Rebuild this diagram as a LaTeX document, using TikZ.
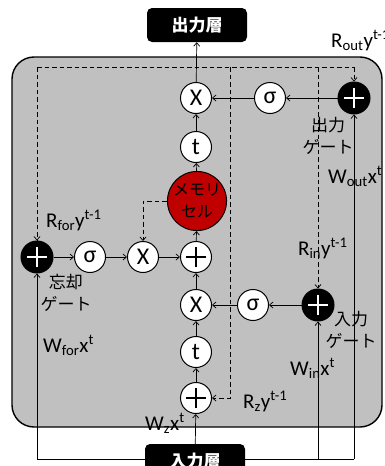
\documentclass[tikz,border=0pt]{standalone}
\usepackage{fontspec}
\setmainfont{Carlito}
\newfontfamily\jp{Noto Sans CJK JP}
\usetikzlibrary{arrows.meta}
\definecolor{cellgray}{HTML}{C0C0C0}
\definecolor{cellred}{HTML}{C00000}
\begin{document}
\begin{tikzpicture}[x=1pt,y=-1pt,
  op/.style={circle,draw,fill=white,minimum size=31pt,inner sep=0pt,line width=1pt,font=\fontsize{24}{24}\selectfont},
  bop/.style={circle,draw,fill=black,minimum size=32pt,inner sep=0pt,line width=1pt},
  layer/.style={rounded corners=5pt,fill=black,text=white,minimum width=100pt,minimum height=34pt,inner sep=0pt,font=\jp\bfseries\fontsize{17}{18}\selectfont},
  arr/.style={-{Straight Barb[length=3.5pt,width=6pt]},line width=0.7pt},
  darr/.style={arr,dashed,dash pattern=on 4.5pt off 3pt},
  dline/.style={line width=0.7pt,dashed,dash pattern=on 4.5pt off 3pt},
  sline/.style={line width=0.7pt},
  lbl/.style={font=\fontsize{21}{21}\selectfont,inner sep=0pt},
  jlbl/.style={font=\jp\fontsize{17}{22}\selectfont,align=center,inner sep=0pt},
  pl/.style={line width=1.8pt}
]
\useasboundingbox (0,0) rectangle (385,466);
% cell background
\draw[fill=cellgray,line width=1.4pt,rounded corners=22pt] (12,57) rectangle (382,427);

% nodes
\node[op] (xTop) at (196,98) {X};
\node[op] (tTop) at (196,147) {t};
\node[circle,draw,fill=cellred,minimum size=49pt,inner sep=0pt,line width=1pt,align=center,font=\jp\fontsize{16}{22}\selectfont] (mem) at (197,201) {メモリ\\セル};
\node[op] (pMid) at (196,257) {};
\node[op] (xMid) at (196,305) {X};
\node[op] (tBot) at (196,352) {t};
\node[op] (pBot) at (196,398) {};
\node[op] (sOut) at (270,98) {σ};
\node[bop] (bOut) at (354,98) {};
\node[bop] (bFor) at (37,257) {};
\node[op] (sFor) at (90,257) {σ};
\node[op] (xFor) at (143,257) {X};
\node[op] (sIn) at (253,305) {σ};
\node[bop] (bIn) at (318,305) {};
\node[layer] (outL) at (197,25) {出力層};

% plus signs
\foreach \n in {pMid,pBot}{
  \draw[pl] (\n.center) +(-10,0) -- +(10,0);
  \draw[pl] (\n.center) +(0,-10) -- +(0,10);
}
\foreach \n in {bOut,bFor,bIn}{
  \draw[pl,white] (\n.center) +(-10,0) -- +(10,0);
  \draw[pl,white] (\n.center) +(0,-10) -- +(0,10);
}

% coordinates for dashed bus
\coordinate (dL) at (37,67);
\coordinate (dR) at (354,67);
\coordinate (dZ) at (230,67);
\coordinate (dZb) at (230,398);
\coordinate (dI) at (318,67);
\coordinate (pk) at (143,201);

% solid input lines
\coordinate (iL) at (37,459);
\coordinate (iR) at (354,459);
\coordinate (iI) at (318,459);
\draw[sline] (iL) -- (147,459);
\draw[sline] (245,459) -- (iR);

% dashed connectors
\draw[dline] (dL) -- (dR);
\draw[darr] (dR) -- (bOut);
\draw[darr] (dL) -- (bFor);
\draw[darr] (dI) -- (bIn);
\draw[darr] (dZ) -- (dZb) -- (pBot);
\draw[darr] (mem) -- (pk) -- (xFor);

% input layer (drawn over lines)
\node[layer] (inL) at (195,461) {入力層};

% solid connectors
\draw[arr] (xTop) -- (outL);
\draw[arr] (tTop) -- (xTop);
\draw[arr] (mem) -- (tTop);
\draw[arr] (pMid) -- (mem);
\draw[arr] (xMid) -- (pMid);
\draw[arr] (tBot) -- (xMid);
\draw[arr] (pBot) -- (tBot);
\draw[arr] (inL) -- (pBot);
\draw[arr] (sOut) -- (xTop);
\draw[arr] (bOut) -- (sOut);
\draw[arr] (bFor) -- (sFor);
\draw[arr] (sFor) -- (xFor);
\draw[arr] (xFor) -- (pMid);
\draw[arr] (bIn) -- (sIn);
\draw[arr] (sIn) -- (xMid);
\draw[arr] (iL) -- (bFor);
\draw[arr] (iI) -- (bIn);
\draw[arr] (iR) -- (bOut);

% labels
\node[lbl,anchor=base west] (lRout) at (331,47) {R\textsubscript{out}y\textsuperscript{t-1}};
\node[jlbl] (lOutG) at (328,136) {出力\\ゲート};
\node[lbl,anchor=base west] (lWout) at (328,183) {W\textsubscript{out}x\textsuperscript{t}};
\node[lbl,anchor=base west] (lRin) at (298,255) {R\textsubscript{in}y\textsuperscript{t-1}};
\node[lbl,anchor=base west] (lRfor) at (46,227) {R\textsubscript{for}y\textsuperscript{t-1}};
\node[jlbl] (lForG) at (66,293) {忘却\\ゲート};
\node[lbl,anchor=base west] (lWfor) at (43,352) {W\textsubscript{for}x\textsuperscript{t}};
\node[jlbl] (lInG) at (351,330) {入力\\ゲート};
\node[lbl,anchor=base west] (lWin) at (290,375) {W\textsubscript{in}x\textsuperscript{t}};
\node[lbl,anchor=base west] (lRz) at (243,408) {R\textsubscript{z}y\textsuperscript{t-1}};
\node[lbl,anchor=base west] (lWz) at (145,430) {W\textsubscript{z}x\textsuperscript{t}};
\end{tikzpicture}
\end{document}
